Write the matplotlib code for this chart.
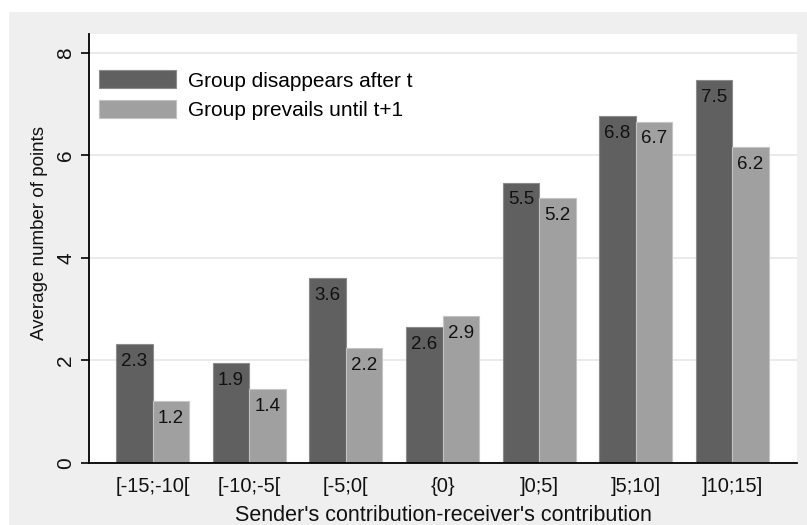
import matplotlib
matplotlib.use("Agg")
import matplotlib.pyplot as plt
from matplotlib.patches import Rectangle
import numpy as np

# data
categories = ["[-15;-10[", "[-10;-5[", "[-5;0[", "{0}", "]0;5]", "]5;10]", "]10;15]"]
disappears = [2.31, 1.94, 3.60, 2.64, 5.47, 6.77, 7.47]
prevails = [1.21, 1.44, 2.23, 2.87, 5.16, 6.66, 6.17]
series_names = ["Group disappears after t", "Group prevails until t+1"]

plt.rcParams['font.family'] = ['Liberation Sans', 'DejaVu Sans']

dark = "#606060"
light = "#a0a0a0"
ink = "#111111"

fig = plt.figure(figsize=(8.07, 5.25), dpi=100, facecolor="white")
# grey outer region (Stata style graph region)
fig.patches.append(Rectangle((9 / 807, 0), 1, 1 - 12 / 525, transform=fig.transFigure,
                             facecolor="#efefef", edgecolor="none", zorder=-5))

ax = fig.add_axes([89 / 807, (525 - 462.7) / 525, (797 - 89) / 807, (462.7 - 34) / 525])
ax.set_zorder(2)
ax.set_facecolor("white")

x = np.arange(len(categories))
w = 0.378
b1 = ax.bar(x - w / 2, disappears, w, color=dark, edgecolor="#8c8c8c", linewidth=0.8,
            label=series_names[0], zorder=2)
b2 = ax.bar(x + w / 2, prevails, w, color=light, edgecolor="#c4c4c4", linewidth=0.8,
            label=series_names[1], zorder=2)

for bars, vals in ((b1, disappears), (b2, prevails)):
    for r, v in zip(bars, vals):
        ax.annotate("%.1f" % v, (r.get_x() + r.get_width() / 2, r.get_height()),
                    xytext=(0, -12.5), textcoords="offset points",
                    ha="center", va="center", fontsize=13.5, color=ink, zorder=3)

ax.set_xlim(-0.66, 6.67)
ax.set_ylim(0, 8.37)
ax.set_yticks([0, 2, 4, 6, 8])
ax.set_xticks(x)
ax.set_xticklabels(categories, fontsize=14.5, color=ink)
ax.tick_params(axis="x", length=0, pad=10)
ax.tick_params(axis="y", length=6, width=1.2, pad=4, labelsize=15, labelcolor=ink)
for lab in ax.get_yticklabels():
    lab.set_rotation(90)
    lab.set_va("center")

ax.yaxis.grid(True, color="#e6e6e6", linewidth=1.2)
ax.set_axisbelow(True)
for s in ("top", "right"):
    ax.spines[s].set_visible(False)
ax.spines["left"].set_linewidth(1.3)
ax.spines["bottom"].set_linewidth(1.3)

ax.set_ylabel("Average number of points", fontsize=13.5, color=ink)
ax.yaxis.set_label_coords(-0.058, 0.535)
ax.set_xlabel("Sender's contribution-receiver's contribution", fontsize=15.5, color=ink)
ax.xaxis.set_label_coords(0.5, -0.098)
ax.xaxis.label.set_va("top")

ax.legend(loc="upper left", bbox_to_anchor=(0.014, 0.915), frameon=False,
          fontsize=15, handlelength=3.7, handleheight=0.95, handletextpad=0.6,
          labelspacing=0.45, borderpad=0, borderaxespad=0)

fig.savefig("out.png", dpi=100, facecolor="white")
